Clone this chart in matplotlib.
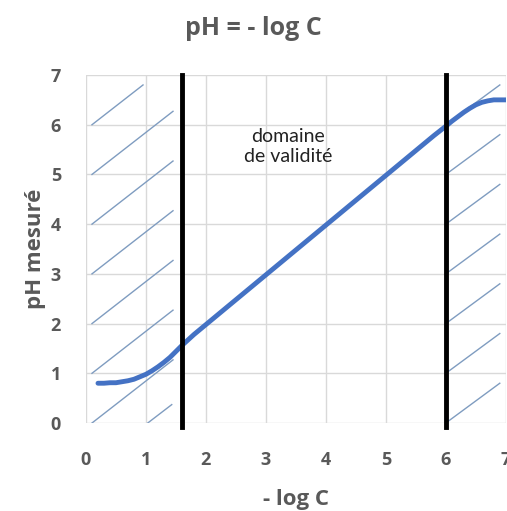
import matplotlib
matplotlib.use("Agg")
import matplotlib.pyplot as plt

# measured curve: pH mesuré vs -log C
log_c = [0.2, 0.3, 0.4, 0.5, 0.6, 0.7, 0.8, 0.9, 1.0, 1.1, 1.2, 1.3, 1.4, 1.5, 1.6, 1.8,
         2.0, 3.0, 4.0, 5.0, 5.6, 5.8, 6.0, 6.1, 6.2, 6.3, 6.4, 6.5, 6.6, 6.7, 6.8, 7.0]
ph_mesure = [0.80, 0.80, 0.81, 0.81, 0.83, 0.85, 0.88, 0.93, 0.98, 1.05, 1.13, 1.22, 1.32, 1.44, 1.56, 1.78,
             1.98, 2.98, 3.98, 4.98, 5.58, 5.78, 5.97, 6.07, 6.16, 6.25, 6.33, 6.40, 6.45, 6.48, 6.5, 6.5]

# limits of the validity domain
limits = [1.6, 6.0]
ticks = [0, 1, 2, 3, 4, 5, 6, 7]

gray = "#595959"
blue = "#4472C4"
hatch_color = "#7f9cc0"
font = "Open Sans"

fig = plt.figure(figsize=(5.07, 5.11), dpi=100)
ax = fig.add_axes([0.1696, 0.1722, 0.828, 0.681])

# hatched zones outside the validity domain
for y0 in range(0, 7):
    y1 = min(y0 + 1.27, 6.8)
    x1 = 0.1 + (y1 - y0) / 0.94
    ax.plot([0.1, x1], [y0, y1], color=hatch_color, lw=1, zorder=2)
    ax.plot([limits[1], limits[1] + 0.9], [y0, y0 + 0.8], color=hatch_color, lw=1, zorder=2)
ax.plot([1.03, 1.43], [0, 0.37], color=hatch_color, lw=1, zorder=2)

ax.plot(log_c, ph_mesure, color=blue, lw=3.5, solid_capstyle="round", zorder=3)

for x in limits:
    ax.plot([x, x], [-0.08, 7], color="black", lw=3.5, zorder=4, clip_on=False)

ax.text(3.37, 5.57, "domaine\nde validité", ha="center", va="center",
        fontsize=14, family="Lato", color="#222222", linespacing=1.2)

ax.set_xlim(0, 7)
ax.set_ylim(0, 7)
ax.set_xticks(ticks)
ax.set_yticks(ticks)
ax.grid(True, color="#d9d9d9", lw=1)
ax.set_axisbelow(True)
ax.tick_params(length=0, labelsize=13, labelcolor=gray)
ax.tick_params(axis="x", pad=20)
ax.tick_params(axis="y", pad=18)
for lab in ax.get_xticklabels() + ax.get_yticklabels():
    lab.set_fontweight("bold")
    lab.set_family(font)
for s in ax.spines.values():
    s.set_visible(False)

ax.set_xlabel("- log C", fontsize=16, fontweight="bold", color=gray, family=font, va="center")
ax.set_ylabel("pH mesuré", fontsize=16, fontweight="bold", color=gray, family=font, va="center")
ax.xaxis.set_label_coords(0.5, -0.221)
ax.yaxis.set_label_coords(-0.121, 0.5)
fig.text(0.5, 0.945, "pH = - log C", ha="center", va="center", fontsize=18,
         fontweight="bold", color=gray, family=font)

fig.savefig("out.png", dpi=100)
